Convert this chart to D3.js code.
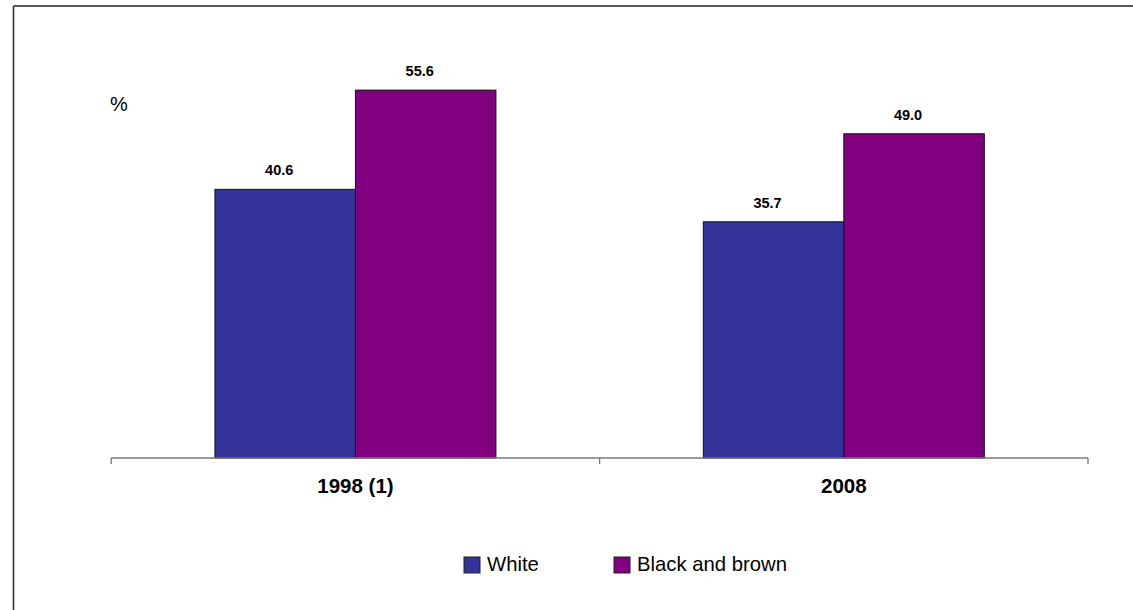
<!DOCTYPE html>
<html>
<head>
<meta charset="utf-8">
<script src="https://cdn.jsdelivr.net/npm/d3@7"></script>
<style>
  html, body { margin: 0; padding: 0; background: #fff; }
  svg { display: block; font-family: "Liberation Sans", Arial, Helvetica, sans-serif; }
</style>
</head>
<body>
<svg id="chart" width="1133" height="610"></svg>
<script>
const categories = ["1998 (1)", "2008"];
const seriesNames = ["White", "Black and brown"];
const whiteValues = [40.6, 35.7];
const blackBrownValues = [55.6, 49.0];
const seriesColors = ["#333399", "#800080"];
const unitLabel = "%";

const W = 1133, H = 610;
const svg = d3.select("#chart");

// frame (top and left edges)
svg.append("line").attr("x1", 13.5).attr("x2", W).attr("y1", 6).attr("y2", 6)
  .attr("stroke", "#222").attr("stroke-width", 1.6);
svg.append("line").attr("x1", 13.5).attr("x2", 13.5).attr("y1", 6).attr("y2", H)
  .attr("stroke", "#333").attr("stroke-width", 1.6);

const plot = { left: 111.25, right: 1088, top: 61, bottom: 458 };

const x = d3.scaleBand().domain(categories).range([plot.left, plot.right]).paddingInner(0).paddingOuter(0);
const xSub = d3.scaleBand().domain(seriesNames).range([0, x.bandwidth()]).paddingInner(0).paddingOuter(0.738);
const y = d3.scaleLinear().domain([0, 60]).range([plot.bottom, plot.top]);

const data = categories.map((c, i) => ({
  category: c,
  values: [
    { series: seriesNames[0], value: whiteValues[i] },
    { series: seriesNames[1], value: blackBrownValues[i] }
  ]
}));
const color = d3.scaleOrdinal().domain(seriesNames).range(seriesColors);

// bars
const groups = svg.append("g").selectAll("g").data(data).join("g")
  .attr("transform", d => `translate(${x(d.category)},0)`);

groups.selectAll("rect").data(d => d.values).join("rect")
  .attr("x", d => xSub(d.series))
  .attr("y", d => y(d.value))
  .attr("width", xSub.bandwidth())
  .attr("height", d => y(0) - y(d.value))
  .attr("fill", d => color(d.series))
  .attr("stroke", "#111")
  .attr("stroke-width", 1);

groups.selectAll("text.val").data(d => d.values).join("text")
  .attr("class", "val")
  .attr("x", d => xSub(d.series) + xSub.bandwidth() / 2 - 6)
  .attr("y", d => y(d.value) - 14)
  .attr("text-anchor", "middle")
  .attr("font-size", "14.5px")
  .attr("font-weight", "bold")
  .attr("fill", "#000")
  .text(d => d3.format(".1f")(d.value));

// x axis
const axis = svg.append("g")
  .attr("transform", `translate(0,${plot.bottom})`)
  .call(d3.axisBottom(x).tickSize(0).tickPadding(35));
axis.select(".domain").remove();
axis.selectAll("text")
  .attr("font-size", "20.5px")
  .attr("font-weight", "bold")
  .attr("fill", "#000")
  .attr("font-family", "Liberation Sans, Arial, sans-serif")
  .attr("dy", "0");
axis.append("line").attr("x1", plot.left).attr("x2", plot.right).attr("y1", 0).attr("y2", 0)
  .attr("stroke", "#777").attr("stroke-width", 1.3);
const tickPositions = [plot.left].concat(categories.map(c => x(c) + x.bandwidth()));
axis.selectAll("line.tk").data(tickPositions).join("line")
  .attr("class", "tk")
  .attr("x1", d => d).attr("x2", d => d)
  .attr("y1", 0).attr("y2", 6)
  .attr("stroke", "#777").attr("stroke-width", 1.3);

// unit label
svg.append("text").attr("x", 110).attr("y", 111)
  .attr("font-size", "20px").attr("fill", "#000").text(unitLabel);

// legend
const legendItems = [
  { name: seriesNames[0], x: 464 },
  { name: seriesNames[1], x: 614 }
];
const lg = svg.append("g").selectAll("g").data(legendItems).join("g")
  .attr("transform", d => `translate(${d.x},557)`);
lg.append("rect").attr("width", 16).attr("height", 16)
  .attr("fill", d => color(d.name)).attr("stroke", "#222").attr("stroke-width", 1);
lg.append("text").attr("x", 23).attr("y", 14)
  .attr("font-size", "20.3px").attr("fill", "#000").text(d => d.name);
</script>
</body>
</html>
